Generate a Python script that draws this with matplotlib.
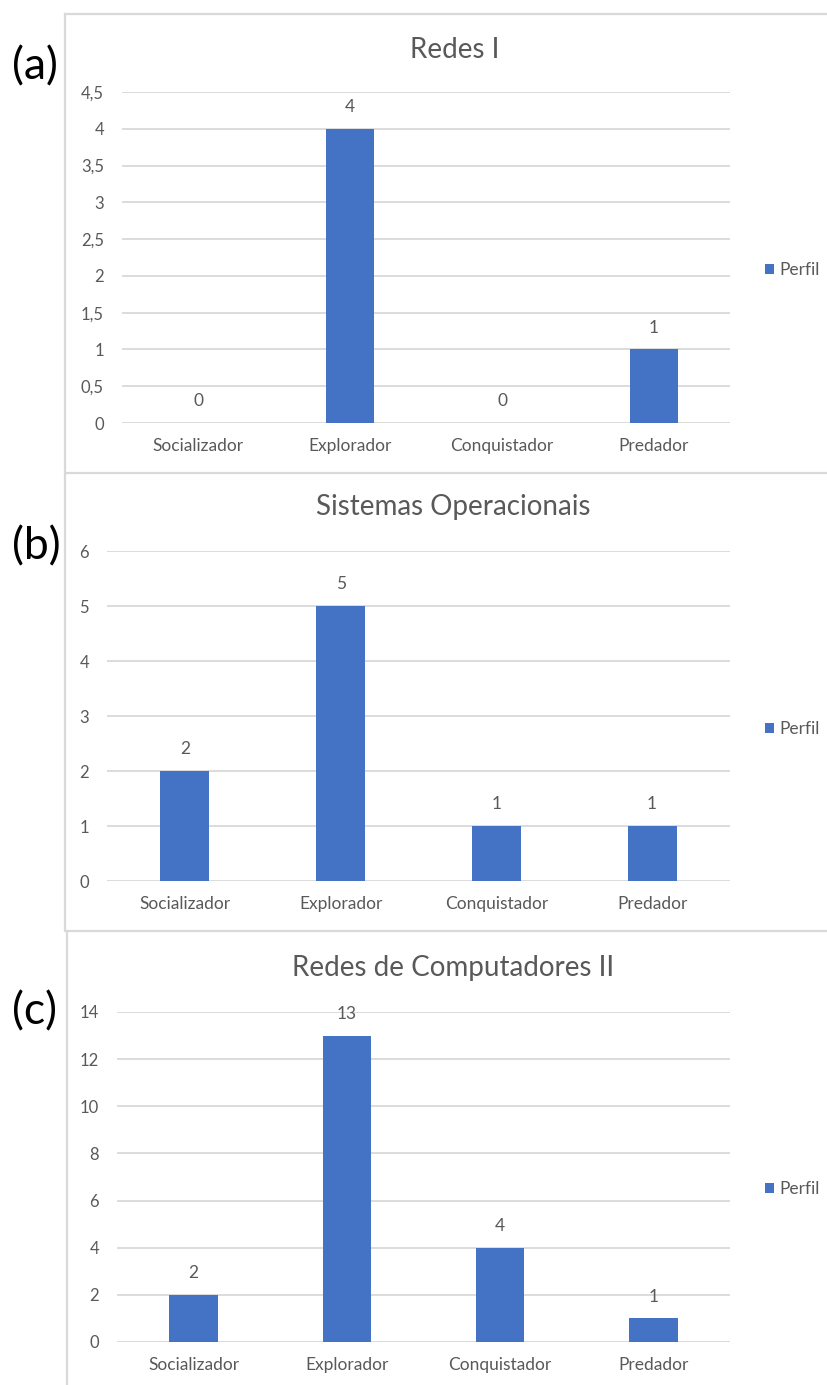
import matplotlib
matplotlib.use("Agg")
import matplotlib.pyplot as plt
from matplotlib.lines import Line2D
from matplotlib.patches import Patch

plt.rcParams['font.family'] = ['Lato', 'DejaVu Sans']

categories = ["Socializador", "Explorador", "Conquistador", "Predador"]
redes_i = [0, 4, 0, 1]
sistemas_op = [2, 5, 1, 1]
redes_comp_ii = [2, 13, 4, 1]

titles = ["Redes I", "Sistemas Operacionais", "Redes de Computadores II"]
panel_tags = ["(a)", "(b)", "(c)"]
series_name = "Perfil"

yticks_a = [0, 0.5, 1, 1.5, 2, 2.5, 3, 3.5, 4, 4.5]
yticks_b = [0, 1, 2, 3, 4, 5, 6]
yticks_c = [0, 2, 4, 6, 8, 10, 12, 14]

BAR = "#4472C4"
TXT = "#595959"
GRID = "#D9D9D9"
FRAME = "#D9D9D9"

W, H = 827, 1385
fig = plt.figure(figsize=(W / 100, H / 100), dpi=100)


def fx(px):
    return px / W


def fy(py):
    return 1 - py / H


def fmt(v):
    if float(v).is_integer():
        return str(int(v))
    return str(v).replace(".", ",")


# pixel layout of each panel: plot area, title, tag, legend
panels = [
    dict(vals=redes_i, ticks=yticks_a, left=122, right=730, top=92, bottom=423,
         title_y=50, title_x=455, tag_y=67, leg_y=270),
    dict(vals=sistemas_op, ticks=yticks_b, left=107, right=730, top=551, bottom=881,
         title_y=507, title_x=453, tag_y=547, leg_y=729),
    dict(vals=redes_comp_ii, ticks=yticks_c, left=117, right=730, top=1012, bottom=1342,
         title_y=968, title_x=453, tag_y=1012, leg_y=1189),
]

for i, p in enumerate(panels):
    ax = fig.add_axes([fx(p["left"]), fy(p["bottom"]),
                       fx(p["right"] - p["left"]), (p["bottom"] - p["top"]) / H])
    x = range(len(categories))
    ax.bar(x, p["vals"], width=0.315, color=BAR, zorder=3)
    for xi, v in zip(x, p["vals"]):
        ax.annotate(str(v), (xi, v), xytext=(0, 10), textcoords="offset points",
                    ha="center", va="bottom", fontsize=12.5, color=TXT)
    ax.set_xlim(-0.5, len(categories) - 0.5)
    ax.set_ylim(p["ticks"][0], p["ticks"][-1])
    ax.set_yticks(p["ticks"])
    ax.set_yticklabels([fmt(t) for t in p["ticks"]])
    ax.set_xticks(list(x))
    ax.set_xticklabels(categories)
    ax.tick_params(axis="y", length=0, pad=13, labelsize=12, labelcolor=TXT)
    ax.tick_params(axis="x", length=0, pad=11, labelsize=12.5, labelcolor=TXT)
    ax.grid(axis="y", color=GRID, linewidth=1.3, zorder=0)
    for s in ax.spines.values():
        s.set_visible(False)
    ax.set_facecolor("none")

    fig.text(fx(p["title_x"]), fy(p["title_y"]), titles[i], ha="center", va="center",
             fontsize=20, color=TXT)
    fig.text(fx(12), fy(p["tag_y"]), panel_tags[i], ha="left", va="center",
             fontsize=32, color="black")
    fig.legend(handles=[Patch(facecolor=BAR, label=series_name)], loc="center left",
               bbox_to_anchor=(fx(765), fy(p["leg_y"])), frameon=False,
               handlelength=0.5, handleheight=0.5, handletextpad=0.35,
               fontsize=12.5, labelcolor=TXT, borderpad=0, borderaxespad=0)

# chart frames
frame_lines = [
    ([65, 827], [14, 14]),
    ([65, 65], [14, 931]),
    ([65, 827], [473, 473]),
    ([67, 827], [931, 931]),
    ([67, 67], [931, 1385]),
]
for xs, ys in frame_lines:
    fig.add_artist(Line2D([fx(v) for v in xs], [fy(v) for v in ys],
                          transform=fig.transFigure, color=FRAME, linewidth=1.6))

fig.savefig("out.png", dpi=100, facecolor="white")
